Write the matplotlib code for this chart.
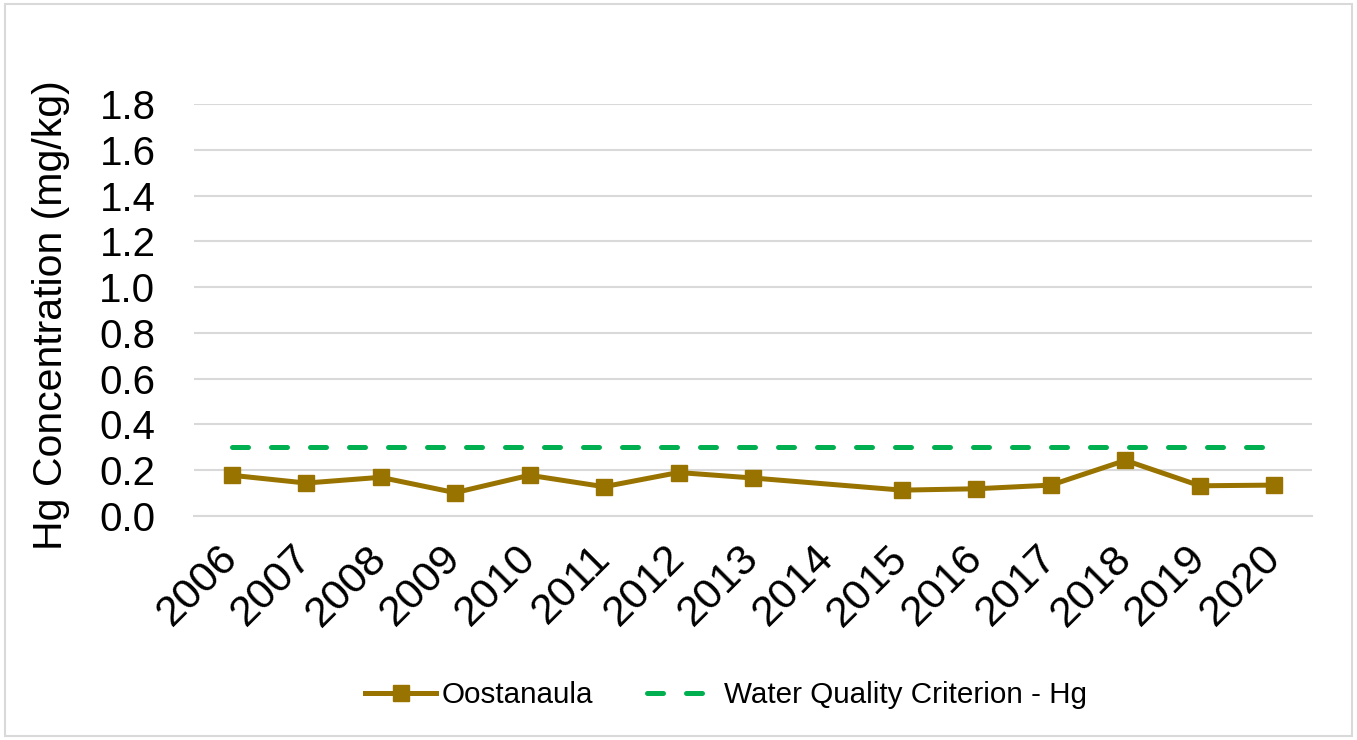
import matplotlib
matplotlib.use("Agg")
import matplotlib.pyplot as plt
from matplotlib.patches import Rectangle
import numpy as np

YEARS = ["2006", "2007", "2008", "2009", "2010", "2011", "2012", "2013",
         "2014", "2015", "2016", "2017", "2018", "2019", "2020"]
# 2014 has no sample; the line joins 2013 to 2015
OOSTANAULA = [0.178, 0.144, 0.169, 0.102, 0.178, 0.128, 0.190, 0.166,
              None, 0.113, 0.119, 0.135, 0.243, 0.132, 0.135]
CRITERION = [0.3] * len(YEARS)
Y_TICKS = [0.0, 0.2, 0.4, 0.6, 0.8, 1.0, 1.2, 1.4, 1.6, 1.8]

SERIES_COLOR = "#997300"
CRITERION_COLOR = "#00B050"
GRID_COLOR = "#D9D9D9"


def main() -> None:
    plt.rcParams["font.family"] = ["Liberation Sans", "DejaVu Sans"]

    fig = plt.figure(figsize=(13.57, 7.40), dpi=100)
    ax = fig.add_axes((0.1432, 0.3027, 0.8234, 0.5568))

    x = np.arange(len(YEARS))
    values = np.array([np.nan if v is None else v for v in OOSTANAULA])
    valid = ~np.isnan(values)

    ax.plot(x[valid], values[valid], color=SERIES_COLOR, linewidth=3.6,
            marker="s", markersize=12, label="Oostanaula", zorder=3)
    ax.plot(x, CRITERION, color=CRITERION_COLOR, linewidth=3.6,
            dashes=(3.2, 4.6), dash_capstyle="round",
            label="Water Quality Criterion - Hg", zorder=2)

    ax.set_xlim(-0.5, len(YEARS) - 0.5)
    ax.set_ylim(0, 1.8)
    ax.set_yticks(Y_TICKS)
    ax.set_yticklabels([f"{t:.1f}" for t in Y_TICKS])
    ax.set_xticks(x)
    ax.set_xticklabels(YEARS, rotation=45, ha="right", va="center",
                       rotation_mode="anchor")

    ax.tick_params(axis="y", length=0, pad=28, labelsize=29)
    ax.tick_params(axis="x", length=0, pad=26, labelsize=31)

    ax.grid(axis="y", color=GRID_COLOR, linewidth=1.5)
    ax.set_axisbelow(True)
    for side in ("top", "right", "left"):
        ax.spines[side].set_visible(False)
    ax.spines["bottom"].set_color(GRID_COLOR)
    ax.spines["bottom"].set_linewidth(1.5)

    ax.set_ylabel("Hg Concentration (mg/kg)", fontsize=29.5)
    ax.yaxis.set_label_coords(-0.111, 0.488)

    fig.legend(loc="center", bbox_to_anchor=(0.535, 0.061), ncol=2,
               frameon=False, handlelength=2.4, columnspacing=1.8,
               handletextpad=0.2, fontsize=21.3)

    fig.patches.append(Rectangle((0.004, 0.006), 0.992, 0.988,
                                 transform=fig.transFigure, fill=False,
                                 edgecolor=GRID_COLOR, linewidth=1.5))

    fig.savefig("out.png", dpi=100)


if __name__ == "__main__":
    main()
